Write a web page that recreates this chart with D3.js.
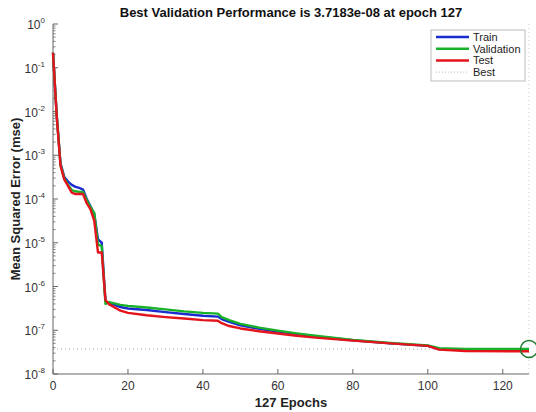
<!DOCTYPE html>
<html>
<head>
<meta charset="utf-8">
<script src="https://cdn.jsdelivr.net/npm/d3@7"></script>
<style>
  body { margin: 0; background: #fff; }
  svg { font-family: "Liberation Sans", Arial, Helvetica, sans-serif; }
</style>
</head>
<body>
<div id="chart"></div>
<script>
// epochs at which the curves were sampled
var epochs = [0,1,2,3,4,5,6,7,8,9,10,11,12,13,14,15,18,20,25,30,35,40,44,45,47,50,55,60,65,70,80,90,100,103,110,127];

var trainMse = [0.22,8e-3,6.5e-4,3.2e-4,2.5e-4,2.1e-4,1.9e-4,1.8e-4,1.65e-4,1.0e-4,6.8e-5,4.6e-5,1.2e-5,1.0e-5,4.6e-7,
  4.2e-7,3.4e-7,3.15e-7,2.9e-7,2.6e-7,2.35e-7,2.15e-7,2.05e-7,1.8e-7,1.55e-7,1.3e-7,1.08e-7,9.3e-8,8.2e-8,7.2e-8,5.9e-8,5.0e-8,4.4e-8,3.7e-8,3.55e-8,3.45e-8];

var valMse = [0.22,8e-3,6.2e-4,3.0e-4,2.1e-4,1.6e-4,1.5e-4,1.45e-4,1.45e-4,9.5e-5,6.5e-5,4.8e-5,9e-6,8.5e-6,4.0e-7,
  4.4e-7,3.8e-7,3.6e-7,3.3e-7,3.0e-7,2.7e-7,2.5e-7,2.4e-7,2.0e-7,1.7e-7,1.4e-7,1.15e-7,9.8e-8,8.5e-8,7.5e-8,6.0e-8,5.1e-8,4.5e-8,3.9e-8,3.75e-8,3.7183e-8];

var testMse = [0.22,7.5e-3,5.8e-4,2.8e-4,2.0e-4,1.4e-4,1.3e-4,1.3e-4,1.3e-4,8e-5,5.8e-5,3.2e-5,6e-6,6e-6,4.9e-7,
  3.9e-7,2.8e-7,2.5e-7,2.2e-7,2.0e-7,1.85e-7,1.7e-7,1.65e-7,1.45e-7,1.25e-7,1.1e-7,9.5e-8,8.4e-8,7.5e-8,6.8e-8,5.8e-8,5.0e-8,4.4e-8,3.6e-8,3.35e-8,3.3e-8];

var bestEpoch = 127, bestPerf = 3.7183e-8;
var xTicks = [0,20,40,60,80,100,120];
var yExponents = [-8,-7,-6,-5,-4,-3,-2,-1,0];
var legendNames = ["Train","Validation","Test","Best"];

var W = 536, H = 412;
var margin = {top:24, left:53, right:7, bottom:38};

var svg = d3.select("#chart").append("svg")
  .attr("width", W).attr("height", H);

var x = d3.scaleLinear().domain([0,127]).range([margin.left, W-margin.right]);
var y = d3.scaleLog().domain([1e-8,1]).range([H-margin.bottom, margin.top]);

var axisColor = "#666", textColor = "#333";

// best lines (dotted)
svg.append("line")
  .attr("x1", x(0)).attr("x2", x(127))
  .attr("y1", y(bestPerf)).attr("y2", y(bestPerf))
  .attr("stroke", "#aaa").attr("stroke-dasharray", "1,3");
svg.append("line")
  .attr("x1", x(bestEpoch)).attr("x2", x(bestEpoch))
  .attr("y1", y(1)).attr("y2", y(1e-8))
  .attr("stroke", "#ccc").attr("stroke-dasharray", "1,3");

// axes
var g = svg.append("g");
g.append("line").attr("x1", x(0)).attr("x2", x(0)).attr("y1", y(1)).attr("y2", y(1e-8))
  .attr("stroke", axisColor);
g.append("line").attr("x1", x(0)).attr("x2", x(127)).attr("y1", y(1e-8)).attr("y2", y(1e-8))
  .attr("stroke", axisColor);

// y ticks, major + minor
yExponents.forEach(function(e){
  var v = Math.pow(10, e);
  g.append("line").attr("x1", x(0)).attr("x2", x(0)+5)
    .attr("y1", y(v)).attr("y2", y(v)).attr("stroke", axisColor);
  var t = g.append("text").attr("x", x(0)-8).attr("y", y(v)+5)
    .attr("text-anchor", "end").attr("fill", textColor).attr("font-size", 12);
  t.append("tspan").text("10");
  t.append("tspan").attr("dy", -6).attr("font-size", 8).text(e);
  if (e < 0) {
    for (var k = 2; k <= 9; k++) {
      var m = k*v;
      g.append("line").attr("x1", x(0)).attr("x2", x(0)+2.5)
        .attr("y1", y(m)).attr("y2", y(m)).attr("stroke", axisColor).attr("stroke-width", 0.8);
    }
  }
});

// x ticks
xTicks.forEach(function(d){
  g.append("line").attr("x1", x(d)).attr("x2", x(d))
    .attr("y1", y(1e-8)).attr("y2", y(1e-8)-5).attr("stroke", axisColor);
  g.append("text").attr("x", x(d)).attr("y", y(1e-8)+16)
    .attr("text-anchor", "middle").attr("fill", textColor).attr("font-size", 12).text(d);
});

// curves
var series = [
  {name:"Train", values: trainMse, color:"#1a2ccf"},
  {name:"Validation", values: valMse, color:"#17b12a"},
  {name:"Test", values: testMse, color:"#e3141b"}
];
var line = d3.line()
  .x(function(d){ return x(d[0]); })
  .y(function(d){ return y(d[1]); });

series.forEach(function(s){
  var pts = epochs.map(function(e, i){ return [e, s.values[i]]; });
  svg.append("path").datum(pts)
    .attr("d", line)
    .attr("fill", "none")
    .attr("stroke", s.color)
    .attr("stroke-width", 2.4)
    .attr("stroke-linejoin", "round");
});

// best marker
svg.append("circle")
  .attr("cx", x(bestEpoch)).attr("cy", y(bestPerf)).attr("r", 8.5)
  .attr("fill", "none").attr("stroke", "#1c7a2c").attr("stroke-width", 1.5);

// titles
svg.append("text").attr("x", (x(0)+x(127))/2).attr("y", 17)
  .attr("text-anchor", "middle").attr("font-weight", "bold").attr("font-size", 13)
  .attr("fill", "#111")
  .text("Best Validation Performance is 3.7183e-08 at epoch 127");
svg.append("text").attr("x", (x(0)+x(127))/2).attr("y", 407)
  .attr("text-anchor", "middle").attr("font-weight", "bold").attr("font-size", 13)
  .attr("fill", "#222").text("127 Epochs");
svg.append("text")
  .attr("transform", "translate(20," + ((y(1)+y(1e-8))/2) + ") rotate(-90)")
  .attr("text-anchor", "middle").attr("font-weight", "bold").attr("font-size", 13)
  .attr("fill", "#222").text("Mean Squared Error  (mse)");

// legend
var lg = svg.append("g").attr("transform", "translate(431,30)");
lg.append("rect").attr("width", 94).attr("height", 51)
  .attr("fill", "#fff").attr("stroke", "#aaa").attr("stroke-width", 0.8);
var legendColors = ["#1a2ccf","#17b12a","#e3141b","#bbb"];
legendNames.forEach(function(n, i){
  var yy = 7 + i*11.7;
  lg.append("line").attr("x1", 5).attr("x2", 38).attr("y1", yy).attr("y2", yy)
    .attr("stroke", legendColors[i]).attr("stroke-width", i < 3 ? 2.5 : 1)
    .attr("stroke-dasharray", i < 3 ? null : "1,2");
  lg.append("text").attr("x", 42).attr("y", yy + 4).attr("font-size", 11)
    .attr("fill", "#222").text(n);
});
</script>
</body>
</html>
